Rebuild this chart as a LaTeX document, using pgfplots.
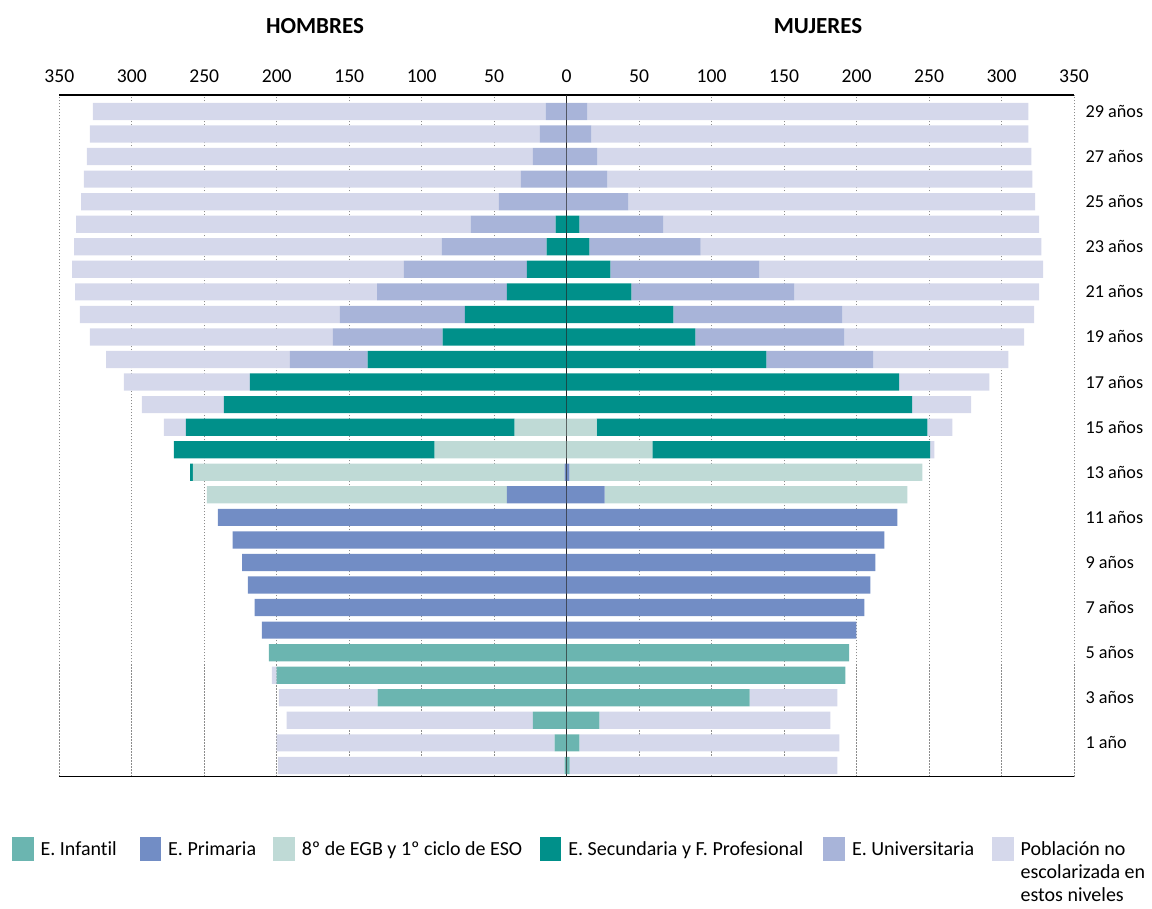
\documentclass[border=0pt]{standalone}
\usepackage{pgfplots}
\usepackage{pgfplotstable}
\pgfplotsset{compat=1.18}
\usepackage{fontspec}
\setmainfont{Carlito}[Ligatures=NoCommon]
\definecolor{cInf}{HTML}{6BB5B0}
\definecolor{cPri}{HTML}{728DC5}
\definecolor{cEgb}{HTML}{BFDAD6}
\definecolor{cSec}{HTML}{00908A}
\definecolor{cUni}{HTML}{A8B4D9}
\definecolor{cNo}{HTML}{D5D8EB}
\definecolor{cGrid}{HTML}{8C8C8C}

% Hombres (negative = left side)
\pgfplotstableread{
age inf pri egb sec uni no
0 -1.4 0 0 0 0 -197.8
1 -8.3 0 0 0 0 -191.7
2 -23.3 0 0 0 0 -169.8
3 -130.4 0 0 0 0 -68.1
4 -200 0 0 0 0 -3.3
5 -205.4 0 0 0 0 0
6 0 -210.2 0 0 0 0
7 0 -215.2 0 0 0 0
8 0 -219.9 0 0 0 0
9 0 -223.9 0 0 0 0
10 0 -230.4 0 0 0 0
11 0 -240.6 0 0 0 0
12 0 -41.3 -206.9 0 0 0
13 0 -1.4 -256.5 -1.9 0 0
14 0 0 -91 -180 0 0
15 0 0 -35.9 -226.7 0 -15.2
16 0 0 0 -236.5 0 -56.5
17 0 0 0 -218.5 0 -86.9
18 0 0 0 -137.3 -53.6 -126.8
19 0 0 0 -85.5 -75.7 -167.7
20 0 0 0 -70.3 -86.2 -179.3
21 0 0 0 -41.3 -89.5 -208.3
22 0 0 0 -27.5 -84.8 -228.9
23 0 0 0 -13.8 -72.4 -253.6
24 0 0 0 -7.6 -58.7 -272.1
25 0 0 0 0 -46.8 -288.2
26 0 0 0 0 -31.6 -301.4
27 0 0 0 0 -23.3 -307.7
28 0 0 0 0 -18.5 -310.4
29 0 0 0 0 -14.5 -312.3
}\hombres

% Mujeres
\pgfplotstableread{
age inf pri egb sec uni no
0 2.1 0 0 0 0 184.7
1 8.8 0 0 0 0 179.3
2 22.6 0 0 0 0 159.3
3 126.2 0 0 0 0 60.6
4 192.3 0 0 0 0 0
5 194.9 0 0 0 0 0
6 0 199.8 0 0 0 0
7 0 205.3 0 0 0 0
8 0 209.5 0 0 0 0
9 0 213 0 0 0 0
10 0 219.2 0 0 0 0
11 0 228.2 0 0 0 0
12 0 26.1 209 0 0 0
13 0 1.9 243.4 0 0 0
14 0 0 59.1 191.7 0 2.8
15 0 0 20.7 228.2 0 17.1
16 0 0 0 238.4 0 40.6
17 0 0 0 229.4 0 62.2
18 0 0 0 137.7 73.9 93.1
19 0 0 0 88.8 102.8 124
20 0 0 0 73.6 116.6 132.3
21 0 0 0 44.6 112.4 169
22 0 0 0 30.2 102.8 195.7
23 0 0 0 15.7 76.7 235.1
24 0 0 0 8.8 57.9 259.3
25 0 0 0 0 42.5 280.7
26 0 0 0 0 28 293.3
27 0 0 0 0 21.1 299.5
28 0 0 0 0 17.1 301.4
29 0 0 0 0 14.2 304.3
}\mujeres

\pgfplotsset{
  pyr/.style={
    scale only axis,
    width=507.35pt, height=340.75pt,
    xbar stacked, bar width=8.6pt,
    xmin=-350, xmax=350, ymin=-0.49, ymax=29.73,
    every axis plot post/.append style={draw=none,
      legend image code/.code={\fill[##1,draw=none] (0pt,-5.6pt) rectangle (10.8pt,6.2pt);}},
  },
}

\begin{document}
\begin{tikzpicture}
\begin{axis}[pyr, name=ax,
  separate axis lines,
  x axis line style={black, line width=0.8pt},
  y axis line style={draw=none},
  xtick={-350,-300,...,350},
  xticklabels={350,300,250,200,150,100,50,0,50,100,150,200,250,300,350},
  xticklabel pos=upper,
  xticklabel style={anchor=base, yshift=6.4pt, font=\fontsize{9.8}{11.8}\selectfont},
  ytick={1,3,...,29},
  yticklabels={1 año,3 años,5 años,7 años,9 años,11 años,13 años,15 años,17 años,19 años,21 años,23 años,25 años,27 años,29 años},
  yticklabel pos=right,
  yticklabel style={anchor=west, inner sep=0pt, xshift=5.6pt, font=\fontsize{9.1}{11}\selectfont},
  major tick length=0pt,
  xmajorgrids,
  grid style={cGrid, line width=0.45pt, dash pattern=on 0.6pt off 0.9pt},
  legend columns=6,
  legend style={draw=none, fill=none, inner sep=0pt, outer sep=0pt,
    at={(axis description cs:0,0)}, anchor=north west,
    xshift=-23.65pt, yshift=-30.25pt,
    font=\fontsize{10}{11.4}\selectfont,
    nodes={inner xsep=0pt, inner ysep=0pt},
    /tikz/every odd column/.append style={column sep=3.5pt},
    /tikz/every even column/.append style={column sep=0pt}},
  legend cell align=left,
]
\addplot[fill=cInf] table[x=inf, y=age] {\hombres};
\addplot[fill=cPri] table[x=pri, y=age] {\hombres};
\addplot[fill=cEgb] table[x=egb, y=age] {\hombres};
\addplot[fill=cSec] table[x=sec, y=age] {\hombres};
\addplot[fill=cUni] table[x=uni, y=age] {\hombres};
\addplot[fill=cNo] table[x=no, y=age] {\hombres};
\addlegendentry{\makebox[49.5pt][l]{\strut E. Infantil}}
\addlegendentry{\makebox[52.5pt][l]{\strut E. Primaria}}
\addlegendentry{\makebox[119pt][l]{\strut 8º de EGB y 1º ciclo de ESO}}
\addlegendentry{\makebox[127.5pt][l]{\strut E. Secundaria y F. Profesional}}
\addlegendentry{\makebox[70pt][l]{\strut E. Universitaria}}
\addlegendentry{\raisebox{0pt}[\height][\dp\strutbox]{\begin{tabular}[t]{@{}l@{}}Población no\\escolarizada en\\estos niveles\end{tabular}}}
\end{axis}
\begin{axis}[pyr, at={(ax.south west)}, anchor=south west, hide axis]
\addplot[fill=cInf] table[x=inf, y=age] {\mujeres};
\addplot[fill=cPri] table[x=pri, y=age] {\mujeres};
\addplot[fill=cEgb] table[x=egb, y=age] {\mujeres};
\addplot[fill=cSec] table[x=sec, y=age] {\mujeres};
\addplot[fill=cUni] table[x=uni, y=age] {\mujeres};
\addplot[fill=cNo] table[x=no, y=age] {\mujeres};
\draw[black!85, line width=0.75pt] (axis cs:0,-0.49) -- (axis cs:0,29.73);
\end{axis}
\node[anchor=base, font=\bfseries\fontsize{11.5}{13.8}\selectfont] at ([xshift=127.85pt, yshift=30.75pt]ax.north west) {HOMBRES};
\node[anchor=base, font=\bfseries\fontsize{11.5}{13.8}\selectfont] at ([xshift=379.35pt, yshift=30.75pt]ax.north west) {MUJERES};
\pgfresetboundingbox
\path[use as bounding box] ([shift={(-29.65pt,-65.75pt)}]ax.south west) rectangle ([shift={(39pt,47.5pt)}]ax.north east);
\end{tikzpicture}
\end{document}
